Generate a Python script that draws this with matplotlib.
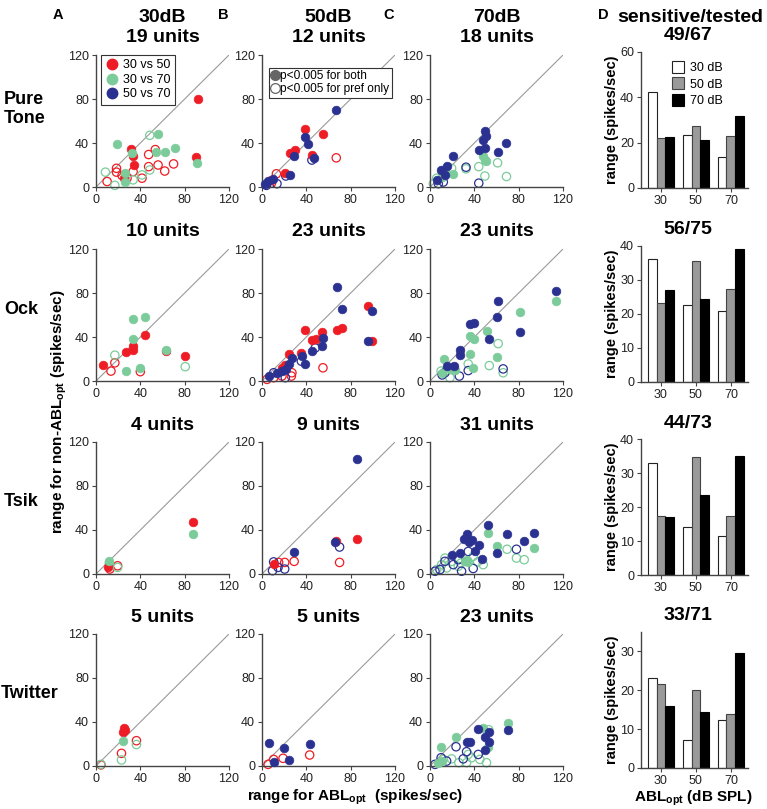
import matplotlib
matplotlib.use('Agg')
import matplotlib.pyplot as plt
from matplotlib.lines import Line2D

plt.rcParams['font.family'] = ['Liberation Sans', 'DejaVu Sans']
plt.rcParams['mathtext.fontset'] = 'custom'
plt.rcParams['mathtext.rm'] = 'Liberation Sans:bold'
plt.rcParams['mathtext.it'] = 'Liberation Sans:bold'
plt.rcParams['mathtext.bf'] = 'Liberation Sans:bold'

# ---------------- data ----------------
col_levels = ['30dB', '50dB', '70dB']
row_names = ['Pure\nTone', 'Ock', 'Tsik', 'Twitter']
unit_counts = [[19, 12, 18], [10, 23, 23], [4, 9, 31], [5, 5, 23]]
sensitive_tested = ['49/67', '56/75', '44/73', '33/71']
scatter_ticks = [0, 40, 80, 120]

# Pure tone
pure30_rf = [(92, 80), (90.5, 27), (32, 34.5), (33.5, 28.5), (34, 20), (25, 8)]
pure30_gf = [(18.5, 39), (56, 48.5), (54.5, 32), (62, 31.5), (71, 35.5), (32.5, 31),
             (26.5, 13), (26.5, 4.5), (91.5, 22)]
pure30_go = [(8.5, 13.5), (17, 1.5), (48.5, 47), (33.5, 6.5), (41.5, 11), (48.5, 15.5)]
pure30_ro = [(10, 5), (18.5, 17), (18.5, 13.5), (23.5, 10.5), (28, 8), (33.5, 14), (41.5, 8),
             (47.5, 29.5), (53.5, 34), (47.5, 18.5), (56, 20), (62, 14.5), (70, 21)]

pure50_bf = [(66.5, 70), (38.5, 45.5), (41.5, 39), (29, 28.5), (46.5, 26), (25, 11),
             (5.5, 5.5), (10, 7.5), (2.5, 3)]
pure50_rf = [(38.5, 53), (55, 48), (25, 31), (29.5, 34), (45.5, 29), (20.5, 13), (8.5, 6)]
pure50_ro = [(67, 26.5), (13, 12), (8.5, 3.5)]
pure50_bo = [(45, 24.5), (13.5, 3), (21.5, 10), (4, 1.5)]

pure70_bf = [(49.5, 50.5), (50.5, 46.5), (48, 43), (44, 34), (49.5, 35.5), (69, 40),
             (61.5, 32), (21, 28), (10, 15.5), (15, 19.5), (6.5, 6), (13.5, 10.5)]
pure70_gf = [(48, 28), (49.5, 25), (50.5, 23.5), (13.5, 16), (21, 12), (10.5, 9)]
pure70_go = [(61, 22), (44, 18.5), (49.5, 10), (69, 9.5), (32.5, 16.5), (19.5, 17), (6, 8), (3, 3)]
pure70_bo = [(32.5, 18), (44, 3.5), (12, 4.5), (7.5, 3)]

# Ock
ock30_gf = [(33.5, 56), (44.5, 58), (33, 38.5), (63.5, 28), (27.5, 9.5), (40, 12)]
ock30_rf = [(44.5, 42), (33.5, 31.5), (33.5, 28), (27, 26), (6.5, 14.5), (80.5, 22.5), (63.5, 27)]
ock30_ro = [(17, 16.5), (13.5, 9), (40, 8.5)]
ock30_go = [(17, 23.5), (80.5, 13)]

ock50_bf = [(67.5, 85.5), (72.5, 65.5), (99, 64), (96, 36.5), (55, 39), (54, 32), (45.5, 27.5),
            (36, 23), (38.5, 15.5), (27, 20.5), (24, 15.5), (22, 11), (18, 9), (13.5, 7.5), (6, 4.5)]
ock50_rf = [(96, 68.5), (99, 36.5), (72.5, 48.5), (67.5, 46.5), (54, 45), (38.5, 46.5),
            (45.5, 37.5), (48.5, 38), (35.5, 25.5), (24, 24.5), (20.5, 15), (18, 11.5)]
ock50_ro = [(55, 12), (27, 7.5), (26.5, 4.5), (18, 4.5), (10.5, 3), (4.5, 1.5)]
ock50_bo = [(48, 30), (35.5, 18), (21, 3), (10.5, 7.5)]

ock70_bf = [(113.5, 82), (61.5, 72.5), (60.5, 58.5), (36.5, 51.5), (40, 53), (53.5, 38.5),
            (81.5, 44.5), (27, 28), (27, 24), (15, 13.5), (22, 13.5)]
ock70_gf = [(113.5, 72.5), (81.5, 62.5), (51, 45.5), (36, 40.5), (40, 38.5), (36, 24.5),
            (60.5, 22), (38.5, 11.5), (12.5, 20), (18, 10.5), (22.5, 10), (10.5, 7.5)]
ock70_go = [(61.5, 34), (53.5, 14), (66, 7.5), (34.5, 15.5), (10, 9), (18, 3)]
ock70_bo = [(66, 11), (34.5, 9.5), (11, 5.5), (26.5, 4.5), (13.5, 7.5)]

# Tsik
tsik30_rf = [(87.5, 47.5), (11, 6)]
tsik30_gf = [(87.5, 36), (12, 12)]
tsik30_ro = [(12.5, 4.5), (19.5, 7.5)]
tsik30_go = [(19.5, 6), (12, 10)]

tsik50_bf = [(85.5, 105), (66, 29), (29, 20)]
tsik50_rf = [(66.5, 30), (85.5, 31.5), (10.5, 9)]
tsik50_ro = [(29, 11.5), (70, 10.5), (20.5, 10.5), (15, 10.5)]
tsik50_bo = [(70, 24.5), (10.5, 11), (14.5, 6), (20.5, 4.5), (9.5, 3)]

tsik70_bf = [(52.5, 45), (33.5, 36.5), (30.5, 31.5), (37.5, 31), (35.5, 29), (44, 26), (41, 20.5),
             (19.5, 17.5), (27, 19), (69.5, 36.5), (93.5, 37), (84.5, 30), (60, 19.5), (46.5, 14)]
tsik70_gf = [(52.5, 37), (60, 25.5), (93.5, 24), (33, 13), (31.5, 11.5), (34.5, 11)]
tsik70_go = [(69.5, 22.5), (78, 14.5), (85, 13), (39, 16), (19.5, 11.5), (13.5, 14.5), (10.5, 8.5),
             (15, 5.5), (25.5, 7), (48, 8.5), (6, 4), (28, 10), (43, 11)]
tsik70_bo = [(78, 22.5), (34.5, 20.5), (39, 5), (13.5, 11.5), (21, 8.5), (9, 4), (28.5, 2.5),
             (4.5, 2.5), (25.5, 13)]

# Twitter
twit30_rf = [(25.5, 35), (24.5, 30.5), (26, 33)]
twit30_gf = [(24.5, 22.5)]
twit30_ro = [(36.5, 23), (23, 11.5), (4.5, 1)]
twit30_go = [(36.5, 19.5), (23, 5.5), (4.5, 1.5)]

twit50_bf = [(6.5, 21), (19.5, 16), (43, 20), (24, 5.5), (10.5, 4)]
twit50_ro = [(43, 10), (19, 7), (10.5, 6), (5.5, 1.5)]

twit70_bf = [(70, 33), (43, 33.5), (53, 30.5), (49.5, 26), (53, 22), (33, 21.5), (36, 21.5), (49.5, 14.5)]
twit70_gf = [(70, 39), (48, 35), (23.5, 26), (9.5, 17.5), (52.5, 17.5), (10.5, 4.5), (7, 2.5)]
twit70_bo = [(23.5, 17.5), (33, 13), (30, 6.5), (43.5, 10.5), (10, 7.5), (15, 4.5), (4.5, 1.5)]
twit70_go = [(53, 33), (34.5, 10.5), (37.5, 7.5), (19.5, 6.5), (45, 6), (51, 3), (33, 3), (12, 6), (26, 3)]

# Panel D bars: rows = stimuli, groups = ABLopt (30,50,70), series = 30/50/70 dB
bar_groups = ['30', '50', '70']
bar_series = ['30 dB', '50 dB', '70 dB']
bars_pure = [[42.5, 22.0, 22.5], [23.3, 27.5, 21.3], [13.5, 23.0, 31.8]]
bars_ock = [[36.3, 23.3, 27.0], [22.7, 35.7, 24.3], [21.0, 27.3, 39.0]]
bars_tsik = [[33.0, 17.5, 17.0], [14.0, 34.8, 23.5], [11.5, 17.3, 35.0]]
bars_twit = [[23.2, 21.5, 16.0], [7.3, 20.0, 14.4], [12.4, 14.0, 29.7]]
bar_ylims = [60, 40, 40, 35]
bar_yticks = [[0, 20, 40, 60], [0, 10, 20, 30, 40], [0, 10, 20, 30, 40], [0, 10, 20, 30]]

# ---------------- style ----------------
COLORS = {'r': '#EE1D25', 'g': '#7CCB9A', 'b': '#2B3190'}
BAR_FACE = ['white', '#9A9A9A', 'black']
BAR_EDGE = ['#222222', '#444444', 'black']
AXC = '#444444'

panels = [
    [[('ro', pure30_ro), ('go', pure30_go), ('rf', pure30_rf), ('gf', pure30_gf)],
     [('ro', pure50_ro), ('bo', pure50_bo), ('rf', pure50_rf), ('bf', pure50_bf)],
     [('go', pure70_go), ('bo', pure70_bo), ('gf', pure70_gf), ('bf', pure70_bf)]],
    [[('ro', ock30_ro), ('go', ock30_go), ('rf', ock30_rf), ('gf', ock30_gf)],
     [('ro', ock50_ro), ('bo', ock50_bo), ('rf', ock50_rf), ('bf', ock50_bf)],
     [('go', ock70_go), ('bo', ock70_bo), ('gf', ock70_gf), ('bf', ock70_bf)]],
    [[('ro', tsik30_ro), ('go', tsik30_go), ('rf', tsik30_rf), ('gf', tsik30_gf)],
     [('ro', tsik50_ro), ('bo', tsik50_bo), ('rf', tsik50_rf), ('bf', tsik50_bf)],
     [('go', tsik70_go), ('bo', tsik70_bo), ('gf', tsik70_gf), ('bf', tsik70_bf)]],
    [[('ro', twit30_ro), ('go', twit30_go), ('rf', twit30_rf), ('gf', twit30_gf)],
     [('ro', twit50_ro), ('bf', twit50_bf)],
     [('go', twit70_go), ('bo', twit70_bo), ('gf', twit70_gf), ('bf', twit70_bf)]],
]
bars_all = [bars_pure, bars_ock, bars_tsik, bars_twit]

W, H = 767, 809
fig = plt.figure(figsize=(W / 100, H / 100), dpi=100)


def ax_px(x0, y0, w, h):
    return fig.add_axes([x0 / W, 1 - (y0 + h) / H, w / W, h / H])


def fx(x):
    return x / W


def fy(y):
    return 1 - y / H


col_x = [96, 262, 430]
row_top = [55, 249, 442, 634]
SW, SH = 133, 132
d_x, d_w = 641, 107
d_top = [52, 246, 439, 632]
d_h = 136


def style_axes(ax):
    for s in ['top', 'right']:
        ax.spines[s].set_visible(False)
    for s in ['left', 'bottom']:
        ax.spines[s].set_color(AXC)
        ax.spines[s].set_linewidth(1.0)
    ax.tick_params(labelsize=9, length=3, width=0.8, color=AXC, labelcolor='#222222', pad=2)


for r in range(4):
    for c in range(3):
        ax = ax_px(col_x[c], row_top[r], SW, SH)
        style_axes(ax)
        ax.set_xlim(0, 120)
        ax.set_ylim(0, 120)
        ax.set_xticks(scatter_ticks)
        ax.set_yticks(scatter_ticks)
        ax.plot([0, 120], [0, 120], color='#9A9A9A', lw=0.8, zorder=1)
        for key, pts in panels[r][c]:
            color = COLORS[key[0]]
            xs = [p[0] for p in pts]
            ys = [p[1] for p in pts]
            if key[1] == 'f':
                ax.scatter(xs, ys, s=40, c=color, edgecolors=color, linewidths=0.4,
                           clip_on=False, zorder=3)
            else:
                ax.scatter(xs, ys, s=36, facecolors='none', edgecolors=color,
                           linewidths=0.9, clip_on=False, zorder=2)
        fig.text(fx(col_x[c] + SW / 2), fy(row_top[r] - 17), f'{unit_counts[r][c]} units',
                 ha='center', va='center', fontsize=14, fontweight='bold')
        if r == 0 and c == 0:
            handles = [Line2D([], [], ls='none', marker='o', ms=7.5, color=COLORS[k],
                              mec=COLORS[k]) for k in 'rgb']
            leg = ax.legend(handles, ['30 vs 50', '30 vs 70', '50 vs 70'], loc='upper left',
                            bbox_to_anchor=(0.04, 1.0), borderaxespad=0, fontsize=9,
                            handlelength=1.0, handletextpad=0.4, labelspacing=0.2,
                            borderpad=0.35, fancybox=False, framealpha=1)
            leg.get_frame().set_edgecolor('#333333')
            leg.get_frame().set_linewidth(0.8)
        if r == 0 and c == 1:
            handles = [Line2D([], [], ls='none', marker='o', ms=7, color='#666666', mec='#666666'),
                       Line2D([], [], ls='none', marker='o', ms=7, mfc='none', mec='#666666', mew=0.9)]
            leg = ax.legend(handles, ['p<0.005 for both', 'p<0.005 for pref only'],
                            loc='upper left', bbox_to_anchor=(0.05, 0.905), borderaxespad=0,
                            fontsize=8.6, handlelength=0.6, handletextpad=0.15,
                            labelspacing=0.1, borderpad=0.2, fancybox=False, framealpha=1)
            leg.get_frame().set_edgecolor('#333333')
            leg.get_frame().set_linewidth(0.8)

    # panel D
    ax = ax_px(d_x, d_top[r], d_w, d_h)
    style_axes(ax)
    vals = bars_all[r]
    for s in range(3):
        xs = [g + (s - 1) * 0.25 for g in range(3)]
        hs = [vals[g][s] for g in range(3)]
        ax.bar(xs, hs, width=0.25, color=BAR_FACE[s], edgecolor=BAR_EDGE[s], linewidth=0.8,
               label=bar_series[s], zorder=2)
    ax.set_xlim(-0.57, 2.49)
    ax.set_ylim(0, bar_ylims[r])
    ax.set_yticks(bar_yticks[r])
    ax.set_xticks(range(3))
    ax.set_xticklabels(bar_groups)
    fig.text(fx(612), fy(d_top[r] + d_h / 2), 'range (spikes/sec)', rotation=90,
             ha='center', va='center', fontsize=10.5, fontweight='bold')
    fig.text(fx(688), fy(d_top[r] - 16), sensitive_tested[r], ha='center', va='center',
             fontsize=14, fontweight='bold')
    if r == 0:
        ax.legend(loc='upper left', bbox_to_anchor=(0.24, 0.97), borderaxespad=0,
                  fontsize=9, frameon=False, handlelength=1.0, handleheight=1.1,
                  handletextpad=0.45, labelspacing=0.25)

    # row label
    fig.text(fx(1 if r == 3 else 4), fy(row_top[r] + SH / 2 - (12 if r == 0 else 6)),
             row_names[r], ha='left', va='center', fontsize=13, fontweight='bold',
             linespacing=1.15)

# column headers
for c, (letter, lvl) in enumerate(zip(['A', 'B', 'C'], col_levels)):
    fig.text(fx([58, 223, 389][c]), fy(15), letter, ha='center', va='center',
             fontsize=10.5, fontweight='bold')
    fig.text(fx(col_x[c] + SW / 2), fy(17), lvl, ha='center', va='center',
             fontsize=14, fontweight='bold')
fig.text(fx(603), fy(15), 'D', ha='center', va='center', fontsize=10.5, fontweight='bold')
fig.text(fx(617), fy(17), 'sensitive/tested', ha='left', va='center', fontsize=14,
         fontweight='bold')

# shared axis labels
fig.text(fx(59), fy(412), r'range for non-ABL$_{\rm opt}$ (spikes/sec)', rotation=90,
         ha='center', va='center', fontsize=11, fontweight='bold')
fig.text(fx(355), fy(797), r'range for ABL$_{\rm opt}$  (spikes/sec)', ha='center',
         va='center', fontsize=11, fontweight='bold')
fig.text(fx(693), fy(798), r'ABL$_{\rm opt}$ (dB SPL)', ha='center', va='center',
         fontsize=11, fontweight='bold')

fig.savefig('out.png', dpi=100)
